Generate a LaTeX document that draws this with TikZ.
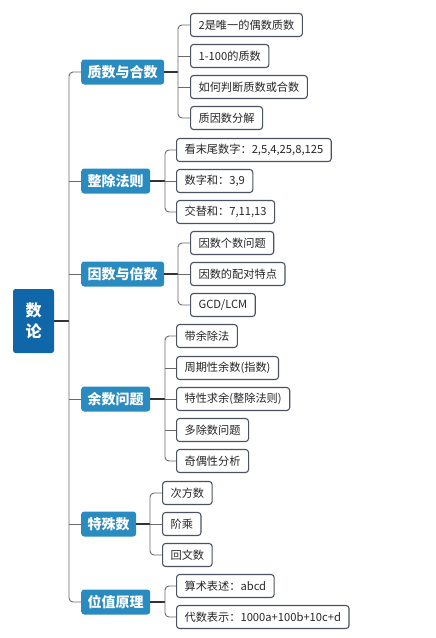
\documentclass[tikz,border=0pt]{standalone}
\usepackage{fontspec}
\setmainfont{Noto Sans CJK SC}
\usetikzlibrary{calc}
\definecolor{RootClr}{HTML}{0F67AA}
\definecolor{TopicClr}{HTML}{2A8BC0}
\definecolor{LeafClr}{HTML}{4B5363}
\definecolor{LineClr}{HTML}{6A6A6A}

\tikzset{
  root/.style={fill=RootClr,text=white,rounded corners=2.5pt,align=center,
    font=\bfseries\fontsize{16}{21}\selectfont,minimum width=41pt,minimum height=64pt},
  topic/.style={fill=TopicClr,text=white,rounded corners=3pt,anchor=west,
    font=\bfseries\fontsize{14}{16}\selectfont,inner xsep=6.5pt,minimum height=25pt},
  leaf/.style={draw=LeafClr,line width=1.1pt,fill=white,rounded corners=3pt,anchor=west,
    font=\fontsize{11.2}{13}\selectfont,text=black!85,inner xsep=8pt,minimum height=23pt},
  link/.style={draw=LineClr,line width=0.9pt,rounded corners=4pt},
  stem/.style={draw=black!80,line width=1.1pt}
}

\begin{document}
\begin{tikzpicture}[x=1pt,y=-1pt]
\useasboundingbox (0,0) rectangle (436,638);

% root and trunk
\node[root] (nl) at (33.5,321) {数\\论};
\coordinate (tr) at (69,321);

% topics
\node[topic] (zs) at (81,72) {质数与合数};
\node[topic] (zc) at (81,181) {整除法则};
\node[topic] (ys) at (81,274) {因数与倍数};
\node[topic] (yw) at (81,399) {余数问题};
\node[topic] (ts) at (81,524) {特殊数};
\node[topic] (wz) at (81,602) {位值原理};

% branch points
\coordinate (bzs) at (178,72);
\coordinate (bzc) at (165,181);
\coordinate (bys) at (178,274);
\coordinate (byw) at (165,399);
\coordinate (bts) at (150,524);
\coordinate (bwz) at (165,602);

% leaves
\node[leaf] (zs1) at (190,25) {2是唯一的偶数质数};
\node[leaf] (zs2) at (190,56) {1-100的质数};
\node[leaf] (zs3) at (190,87) {如何判断质数或合数};
\node[leaf] (zs4) at (190,118) {质因数分解};

\node[leaf] (zc1) at (176,150) {看末尾数字：2,5,4,25,8,125};
\node[leaf] (zc2) at (176,181) {数字和：3,9};
\node[leaf] (zc3) at (176,212) {交替和：7,11,13};

\node[leaf] (ys1) at (190,243) {因数个数问题};
\node[leaf] (ys2) at (190,274) {因数的配对特点};
\node[leaf] (ys3) at (190,305) {GCD/LCM};

\node[leaf] (yw1) at (176,336) {带余除法};
\node[leaf] (yw2) at (176,368) {周期性余数(指数)};
\node[leaf] (yw3) at (176,399) {特性求余(整除法则)};
\node[leaf] (yw4) at (176,430) {多除数问题};
\node[leaf] (yw5) at (176,461) {奇偶性分析};

\node[leaf] (ts1) at (162,493) {次方数};
\node[leaf] (ts2) at (162,524) {阶乘};
\node[leaf] (ts3) at (162,555) {回文数};

\node[leaf] (wz1) at (176,586) {算术表述：abcd};
\node[leaf] (wz2) at (176,617) {代数表示：1000a+100b+10c+d};

% trunk
\draw[stem] (nl.east) -- (tr);
\draw[link] (zs.west) -| (tr) |- (wz.west);
\draw[link] (zc.west) -- (zc.west -| tr);
\draw[link] (ys.west) -- (ys.west -| tr);
\draw[link] (yw.west) -- (yw.west -| tr);
\draw[link] (ts.west) -- (ts.west -| tr);

% branches
\draw[stem] (zs.east) -- (bzs);
\draw[link] (zs1.west) -| (bzs) |- (zs4.west);
\draw[link] (zs2.west) -- (zs2.west -| bzs);
\draw[link] (zs3.west) -- (zs3.west -| bzs);

\draw[stem] (zc.east) -- (bzc);
\draw[link] (zc1.west) -| (bzc) |- (zc3.west);
\draw[link] (zc2.west) -- (bzc);

\draw[stem] (ys.east) -- (bys);
\draw[link] (ys1.west) -| (bys) |- (ys3.west);
\draw[link] (ys2.west) -- (bys);

\draw[stem] (yw.east) -- (byw);
\draw[link] (yw1.west) -| (byw) |- (yw5.west);
\draw[link] (yw2.west) -- (yw2.west -| byw);
\draw[link] (yw3.west) -- (byw);
\draw[link] (yw4.west) -- (yw4.west -| byw);

\draw[stem] (ts.east) -- (bts);
\draw[link] (ts1.west) -| (bts) |- (ts3.west);
\draw[link] (ts2.west) -- (bts);

\draw[stem] (wz.east) -- (bwz);
\draw[link] (wz1.west) -| (bwz) |- (wz2.west);

\end{tikzpicture}
\end{document}
